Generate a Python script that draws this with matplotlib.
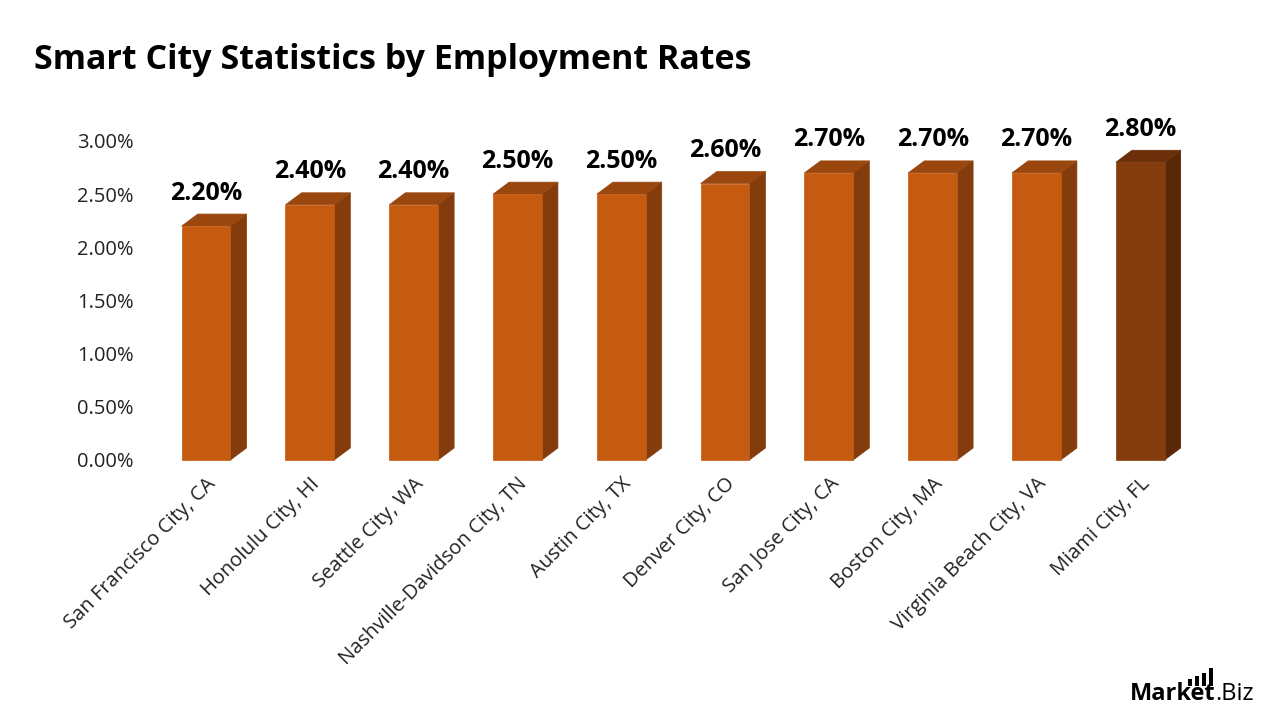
import matplotlib
matplotlib.use('Agg')
import matplotlib.pyplot as plt
from matplotlib.patches import Polygon, Rectangle
from matplotlib.ticker import FuncFormatter

cities = ["San Francisco City, CA", "Honolulu City, HI", "Seattle City, WA",
          "Nashville-Davidson City, TN", "Austin City, TX", "Denver City, CO",
          "San Jose City, CA", "Boston City, MA", "Virginia Beach City, VA",
          "Miami City, FL"]
rates = [2.20, 2.40, 2.40, 2.50, 2.50, 2.60, 2.70, 2.70, 2.70, 2.80]

plt.rcParams['font.family'] = ['Open Sans', 'DejaVu Sans']

fig = plt.figure(figsize=(12.8, 7.2), dpi=100)
ax = fig.add_axes([150 / 1280, 1 - 460 / 720, 1050 / 1280, 319 / 720])

# 3D-look bar geometry (data units)
w = 0.47     # front face width
dx = 0.155   # depth offset along x
dy = 0.113   # depth offset along y

for i, v in enumerate(rates):
    last = i == len(rates) - 1
    front = '#843c0c' if last else '#c55a11'
    top = '#6b300a' if last else '#9a470f'
    side = '#5a2806' if last else '#843c0c'
    x0, x1 = i - w / 2, i + w / 2
    ax.add_patch(Polygon([(x1, 0), (x1 + dx, dy), (x1 + dx, v + dy), (x1, v)],
                         facecolor=side, edgecolor=side, lw=0.5, clip_on=False))
    ax.add_patch(Polygon([(x0, v), (x0 + dx, v + dy), (x1 + dx, v + dy), (x1, v)],
                         facecolor=top, edgecolor=top, lw=0.5, clip_on=False))
    ax.add_patch(Rectangle((x0, 0), w, v, facecolor=front, edgecolor=front,
                           lw=0.5, clip_on=False))
    ax.text(i, v + dy + 0.08, f"{v:.2f}%", ha='center', va='bottom',
            fontsize=18, fontweight='bold', color='black', clip_on=False)

ax.set_xlim(-0.54, 9.576)
ax.set_ylim(0, 3.0)
ax.set_yticks([0, 0.5, 1.0, 1.5, 2.0, 2.5, 3.0])
ax.yaxis.set_major_formatter(FuncFormatter(lambda y, _: f"{y:.2f}%"))
ax.set_xticks(range(len(cities)))
ax.set_xticklabels(cities, rotation=45, ha='right', rotation_mode='anchor')
ax.tick_params(axis='both', length=0, labelsize=14.5, colors='#222222')
ax.tick_params(axis='y', pad=12)
ax.tick_params(axis='x', pad=10)
for s in ax.spines.values():
    s.set_visible(False)

fig.text(34 / 1280, 1 - 60 / 720, "Smart City Statistics by Employment Rates",
         fontsize=24.5, fontweight='bold', va='center', ha='left')

# logo
t1 = fig.text(1130 / 1280, 1 - 694 / 720, "Market", fontsize=17, fontweight='bold',
              va='center', ha='left')
fig.canvas.draw()
bb = t1.get_window_extent()
fig.text(bb.x1 / 1280, 1 - 694 / 720, ".Biz", fontsize=17, va='center', ha='left')
for k, h in enumerate([7, 10, 13, 18]):
    fig.patches.append(Rectangle(((1188 + k * 7) / 1280, (720 - 686) / 720),
                                 3.5 / 1280, h / 720, facecolor='black',
                                 transform=fig.transFigure, figure=fig))

fig.savefig('out.png', dpi=100)
